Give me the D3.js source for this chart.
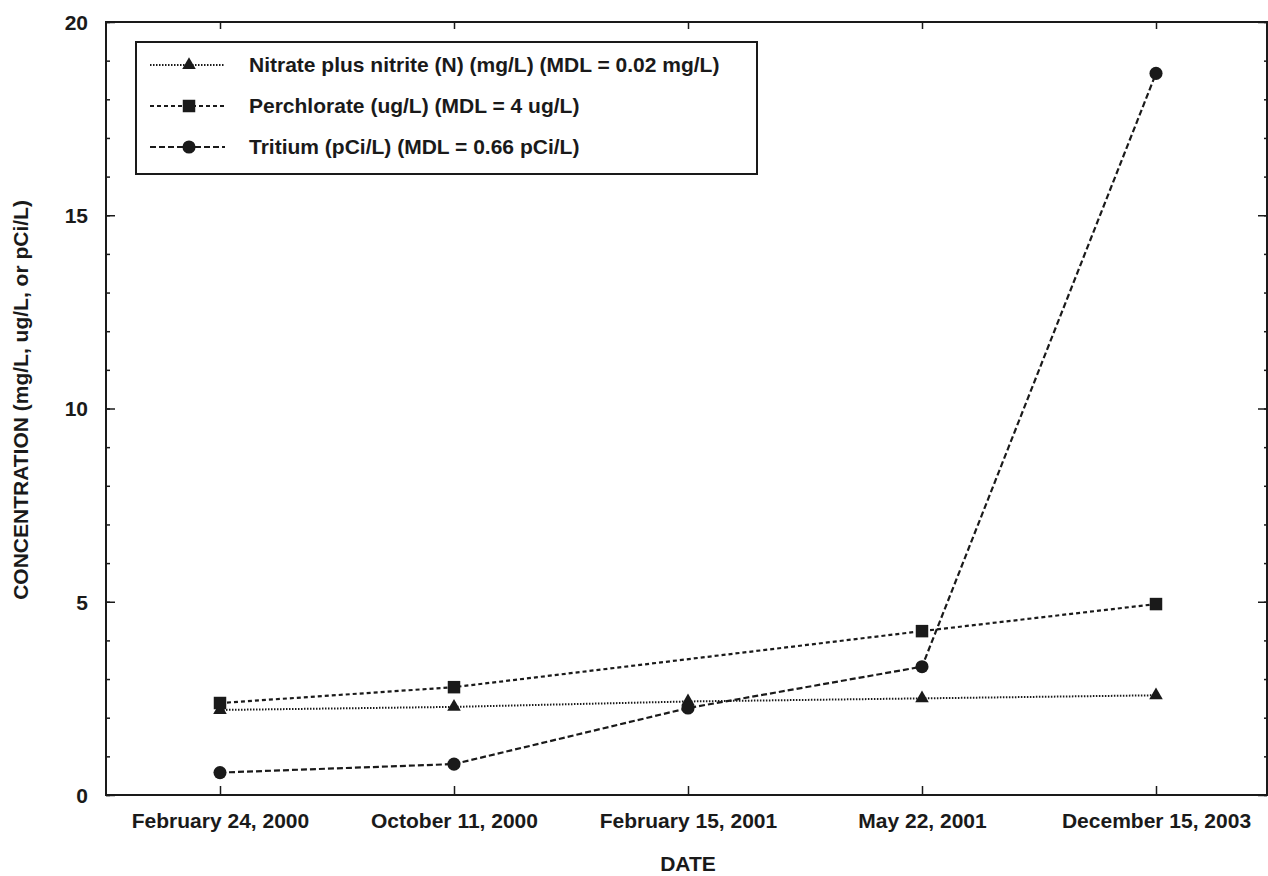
<!DOCTYPE html>
<html><head><meta charset="utf-8">
<script src="https://cdn.jsdelivr.net/npm/d3@7"></script>
<style>
html,body{margin:0;padding:0;background:#fff;}
svg{display:block;}
text{font-family:"Liberation Sans",Arial,sans-serif;font-weight:bold;fill:#1a1a1a;}
</style></head>
<body>
<svg id="chart" width="1268" height="876"></svg>
<script>
const dates = ["February 24, 2000","October 11, 2000","February 15, 2001","May 22, 2001","December 15, 2003"];
const nitrate = [2.2, 2.28, 2.42, 2.5, 2.58];
const perchlorate = [2.38, 2.79, null, 4.24, 4.94];
const tritium = [0.58, 0.8, 2.25, 3.32, 18.67];
const yMajorTicks = [0, 5, 10, 15, 20];
const seriesNames = ["Nitrate plus nitrite (N) (mg/L) (MDL = 0.02 mg/L)","Perchlorate (ug/L) (MDL = 4 ug/L)","Tritium (pCi/L) (MDL = 0.66 pCi/L)"];

(function(){
const svg = d3.select("#chart");
const pL = 106, pR = 1267, pT = 22, pB = 795;
const FS = 21;
const x = d3.scalePoint().domain(dates).range([220, 1156]);
const y = d3.scaleLinear().domain([0, 20]).range([pB, pT]);
const ink = "#1a1a1a";

// frame
svg.append("rect").attr("x", pL).attr("y", pT).attr("width", pR-pL).attr("height", pB-pT)
  .attr("fill","none").attr("stroke",ink).attr("stroke-width",2);

// left axis
const gL = svg.append("g").attr("transform",`translate(${pL},0)`);
gL.call(d3.axisRight(y).tickValues(d3.range(0,21,1)).tickSize(4).tickFormat(""))
  .call(g=>g.select(".domain").remove());
gL.append("g").call(d3.axisRight(y).tickValues(yMajorTicks).tickSize(9).tickFormat(""))
  .call(g=>g.select(".domain").remove());
gL.selectAll("line").attr("stroke",ink).attr("stroke-width",1.5);
svg.append("g").attr("transform",`translate(${pL},0)`)
  .call(d3.axisLeft(y).tickValues(yMajorTicks).tickSize(0).tickPadding(18))
  .call(g=>g.select(".domain").remove())
  .selectAll("text").attr("font-size",FS).attr("dy","0.35em").style("font-family","Liberation Sans, Arial").style("font-weight","bold").attr("fill",ink);

// right axis ticks
const gR = svg.append("g").attr("transform",`translate(${pR},0)`);
gR.call(d3.axisLeft(y).tickValues(d3.range(0,21,1)).tickSize(3).tickFormat(""))
  .call(g=>g.select(".domain").remove());
gR.append("g").call(d3.axisLeft(y).tickValues(yMajorTicks).tickSize(9).tickFormat(""))
  .call(g=>g.select(".domain").remove());
gR.selectAll("line").attr("stroke",ink).attr("stroke-width",1.5);

// bottom axis
svg.append("g").attr("transform",`translate(0,${pB})`)
  .call(d3.axisTop(x).tickSize(9).tickFormat(""))
  .call(g=>g.select(".domain").remove())
  .selectAll("line").attr("stroke",ink).attr("stroke-width",1.5);
svg.append("g").attr("transform",`translate(0,${pB})`)
  .call(d3.axisBottom(x).tickSize(0).tickPadding(18))
  .call(g=>g.select(".domain").remove())
  .selectAll("text").attr("font-size",FS).style("font-family","Liberation Sans, Arial").style("font-weight","bold").attr("fill",ink);
// top axis ticks
svg.append("g").attr("transform",`translate(0,${pT})`)
  .call(d3.axisBottom(x).tickSize(7).tickFormat(""))
  .call(g=>g.select(".domain").remove())
  .selectAll("line").attr("stroke",ink).attr("stroke-width",1.5);

// axis titles
svg.append("text").attr("x", 688).attr("y", 871).attr("text-anchor","middle").attr("font-size",FS).text("DATE");
svg.append("text").attr("transform","translate(28,400) rotate(-90)").attr("text-anchor","middle")
  .attr("font-size",FS).text("CONCENTRATION (mg/L, ug/L, or pCi/L)");

// series
const series = [
  {name: seriesNames[0], values: nitrate, dash: "1.5,1.5", width: 2, symbol: d3.symbolTriangle, size: 80},
  {name: seriesNames[1], values: perchlorate, dash: "4,3", width: 2.2, symbol: d3.symbolSquare, size: 156},
  {name: seriesNames[2], values: tritium, dash: "6,3", width: 2.2, symbol: d3.symbolCircle, size: 135}
];
const line = d3.line().x(d=>x(d.date)).y(d=>y(d.v));
series.forEach(s=>{
  const pts = s.values.map((v,i)=>({date: dates[i], v})).filter(d=>d.v!=null);
  svg.append("path").datum(pts).attr("d", line).attr("fill","none")
    .attr("stroke",ink).attr("stroke-width",s.width).attr("stroke-dasharray",s.dash);
  svg.append("g").selectAll("path").data(pts).join("path")
    .attr("transform",d=>`translate(${x(d.date)},${y(d.v)})`)
    .attr("d", d3.symbol().type(s.symbol).size(s.size)).attr("fill",ink);
});

// legend
const lg = svg.append("g");
lg.append("rect").attr("x",136).attr("y",42).attr("width",621).attr("height",132)
  .attr("fill","#fff").attr("stroke",ink).attr("stroke-width",2);
const rowY = [65, 106, 147];
series.forEach((s,i)=>{
  lg.append("line").attr("x1",150).attr("x2",225).attr("y1",rowY[i]).attr("y2",rowY[i])
    .attr("stroke",ink).attr("stroke-width",s.width).attr("stroke-dasharray",s.dash);
  lg.append("path").attr("transform",`translate(189,${rowY[i]})`)
    .attr("d", d3.symbol().type(s.symbol).size(s.size)).attr("fill",ink);
  lg.append("text").attr("x",249).attr("y",rowY[i]).attr("dy","0.35em").attr("font-size",FS).text(s.name);
});
})();
</script>
</body></html>
